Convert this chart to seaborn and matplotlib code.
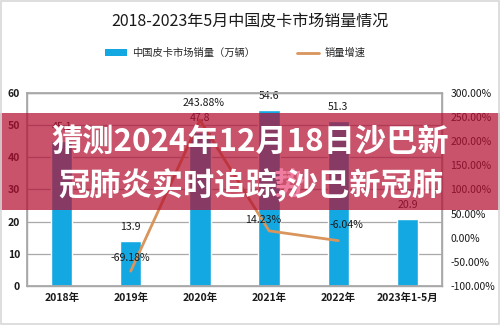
import numpy as np
import pandas as pd
import matplotlib
matplotlib.use("Agg")
import matplotlib.pyplot as plt
import seaborn as sns
from matplotlib.patches import Patch, Rectangle
from matplotlib.lines import Line2D
from matplotlib.ticker import FuncFormatter, MultipleLocator

categories = ["2018年", "2019年", "2020年", "2021年", "2022年", "2023年1-5月"]
sales = [45.1, 13.9, 47.8, 54.6, 51.3, 20.9]
growth = [np.nan, -69.18, 243.88, 14.23, -6.04, np.nan]
title = "2018-2023年5月中国皮卡市场销量情况"
legend_labels = ["中国皮卡市场销量（万辆）", "销量增速"]
banner_lines = ["猜测2024年12月18日沙巴新", "冠肺炎实时追踪,沙巴新冠肺"]

BAR = "#14A8E2"
LINE = "#D9955C"
GRID = "#A8A8A8"

sns.set_theme(style="white")
plt.rcParams["font.family"] = ["Noto Sans CJK SC", "DejaVu Sans"]

df = pd.DataFrame({"cat": categories, "sales": sales, "growth": growth})
df["pos"] = np.arange(len(df))

fig = plt.figure(figsize=(5, 3.25), dpi=100)
ax = fig.add_axes([0.054, 0.12, 0.83, 0.594])

sns.barplot(data=df, x="cat", y="sales", color=BAR, width=0.31,
            saturation=1, ax=ax, zorder=2)
ax.set_ylim(0, 60)
ax.yaxis.set_major_locator(MultipleLocator(10))
ax.set_xlim(-0.5, len(categories) - 0.5)
ax.set_xlabel("")
ax.set_ylabel("")
ax.grid(axis="y", color=GRID, lw=0.9, zorder=0)
ax.set_axisbelow(True)
for s in ax.spines.values():
    s.set_color(GRID)
    s.set_linewidth(1)
ax.tick_params(axis="both", length=0, labelsize=7.5, colors="#1A1A1A")
ax.tick_params(axis="y", pad=5)
ax.tick_params(axis="x", pad=5)
for lab in ax.get_xticklabels() + ax.get_yticklabels():
    lab.set_fontweight("bold")

for i, v in enumerate(sales):
    ax.annotate(f"{v}", (i, v), xytext=(0, 9), textcoords="offset pixels",
                ha="center", va="bottom", fontsize=7.6, color="#1A1A1A", zorder=5)

ax2 = ax.twinx()
gdf = df.dropna(subset=["growth"])
sns.lineplot(data=gdf, x="pos", y="growth", color=LINE, lw=2, ax=ax2,
             legend=False, zorder=3)
ax2.set_ylim(-100, 300)
ax2.yaxis.set_major_locator(MultipleLocator(50))
ax2.yaxis.set_major_formatter(FuncFormatter(lambda v, p: f"{v:.2f}%"))
ax2.set_xlim(-0.5, len(categories) - 0.5)
ax2.set_ylabel("")
ax2.set_xlabel("")
for s in ax2.spines.values():
    s.set_color(GRID)
ax2.tick_params(axis="y", length=0, labelsize=7.5, colors="#1A1A1A", pad=6)

offsets = {1: (0, 8), 2: (4, 12), 3: (-6, 6), 4: (8, 11)}
for i, (dx, dy) in offsets.items():
    g = growth[i]
    ax2.annotate(f"{g:.2f}%", (i, g), xytext=(dx, dy), textcoords="offset pixels",
                 ha="center", va="bottom", fontsize=7.6, color="#1A1A1A", zorder=5)

fig.text(0.5, 0.935, title, ha="center", va="center", fontsize=11.5, color="#1A1A1A")

handles = [Patch(facecolor=BAR, edgecolor="none"),
           Line2D([0], [0], color=LINE, lw=2)]
fig.legend(handles, legend_labels, loc="center", bbox_to_anchor=(0.47, 0.837),
           ncol=2, frameon=False, fontsize=7.4, handlelength=2.2,
           handleheight=0.6, columnspacing=4.0, handletextpad=0.5)

# banner overlay
band = Rectangle((0, 0.354), 1, 0.298, transform=fig.transFigure,
                 facecolor=(180/255, 16/255, 50/255), alpha=0.72,
                 edgecolor="none", zorder=10)
fig.add_artist(band)
fig.text(0.578, 0.43, "势", ha="center", va="center", fontsize=22,
         fontweight="bold", color="#F07CA0", zorder=11)
fig.text(0.5, 0.563, banner_lines[0], ha="center", va="center", fontsize=22.5,
         fontweight="bold", color="white", zorder=12)
fig.text(0.502, 0.431, banner_lines[1], ha="center", va="center", fontsize=22.5,
         fontweight="bold", color="white", zorder=12)

frame = Rectangle((0.002, 0.003), 0.996, 0.994, transform=fig.transFigure,
                  facecolor="none", edgecolor="#D8D8D8", lw=1.2, zorder=20)
fig.add_artist(frame)

fig.savefig("out.png", dpi=100)
